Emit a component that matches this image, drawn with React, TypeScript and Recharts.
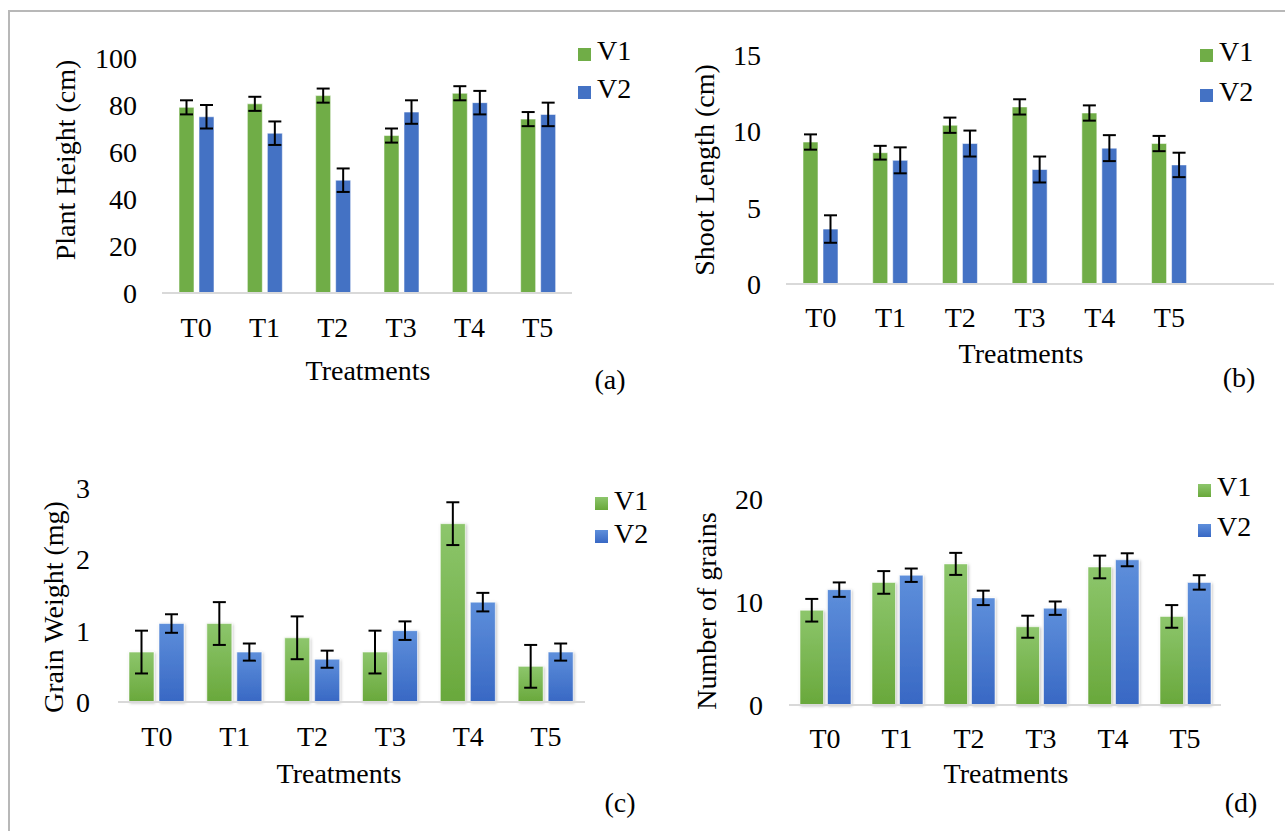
import React from 'react';
import { BarChart, Bar, XAxis, YAxis, ErrorBar, Legend } from 'recharts';

const FONT = 'Liberation Serif, Times New Roman, serif';

// ---------- data ----------
const categories = ['T0', 'T1', 'T2', 'T3', 'T4', 'T5'];
const seriesNames = ['V1', 'V2'];

const plantHeightV1 = [79, 80.5, 84, 67, 85, 74];
const plantHeightV1Err = [3, 3, 3, 3, 3, 3];
const plantHeightV2 = [75, 68, 48, 77, 81, 76];
const plantHeightV2Err = [5, 5, 5, 5, 5, 5];
const plantHeightTicks = [0, 20, 40, 60, 80, 100];

const shootLengthV1 = [9.3, 8.6, 10.4, 11.6, 11.2, 9.2];
const shootLengthV1Err = [0.5, 0.45, 0.5, 0.5, 0.5, 0.5];
const shootLengthV2 = [3.6, 8.1, 9.2, 7.5, 8.9, 7.8];
const shootLengthV2Err = [0.9, 0.85, 0.85, 0.85, 0.85, 0.8];
const shootLengthTicks = [0, 5, 10, 15];

const grainWeightV1 = [0.7, 1.1, 0.9, 0.7, 2.5, 0.5];
const grainWeightV1Err = [0.3, 0.3, 0.3, 0.3, 0.3, 0.3];
const grainWeightV2 = [1.1, 0.7, 0.6, 1.0, 1.4, 0.7];
const grainWeightV2Err = [0.13, 0.12, 0.12, 0.13, 0.13, 0.12];
const grainWeightTicks = [0, 1, 2, 3];

const grainCountV1 = [9.2, 11.9, 13.7, 7.6, 13.4, 8.6];
const grainCountV1Err = [1.1, 1.1, 1.07, 1.07, 1.1, 1.1];
const grainCountV2 = [11.2, 12.6, 10.4, 9.4, 14.1, 11.9];
const grainCountV2Err = [0.7, 0.65, 0.7, 0.65, 0.63, 0.7];
const grainCountTicks = [0, 10, 20];

type Row = { cat: string; v1: number | null; v2: number | null; e1: number | null; e2: number | null };

function buildRows(v1: number[], v2: number[], e1: number[], e2: number[], emptySlots = 0): Row[] {
  const rows: Row[] = categories.map((c, i) => ({ cat: c, v1: v1[i], v2: v2[i], e1: e1[i], e2: e2[i] }));
  for (let k = 0; k < emptySlots; k++) rows.push({ cat: ' '.repeat(k + 1), v1: null, v2: null, e1: null, e2: null });
  return rows;
}

const FLAT = { v1: '#70ad47', v2: '#4472c4' };
const GRAD_CSS = {
  v1: 'linear-gradient(#8dc66c, #69a83b)',
  v2: 'linear-gradient(#5e8fdb, #3868c4)',
};

type Panel = {
  id: string;
  left: number; top: number; width: number; height: number;
  rows: Row[];
  ticks: number[];
  plotLeft: number; plotRight: number; plotTop: number; plotBottom: number;
  yTickMargin: number; xTickMargin: number;
  barSize: number; barGap: number;
  gradient: boolean;
  yTitle: string; yTitleX: number; yTitleY: number;
  xTitleX: number; xTitleY: number;
  tag: string; tagX: number; tagY: number;
  legendLeft: number; legendTop: number; legendRow: number;
};

const panels: Panel[] = [
  {
    id: 'a', left: 0, top: 0, width: 640, height: 420,
    rows: buildRows(plantHeightV1, plantHeightV2, plantHeightV1Err, plantHeightV2Err),
    ticks: plantHeightTicks,
    plotLeft: 162, plotRight: 572, plotTop: 58, plotBottom: 293,
    yTickMargin: 25, xTickMargin: 24, barSize: 15, barGap: 5, gradient: false,
    yTitle: 'Plant Height (cm)', yTitleX: 75, yTitleY: 160,
    xTitleX: 368, xTitleY: 380, tag: '(a)', tagX: 610, tagY: 389,
    legendLeft: 578, legendTop: 32, legendRow: 38,
  },
  {
    id: 'b', left: 640, top: 0, width: 645, height: 420,
    rows: buildRows(shootLengthV1, shootLengthV2, shootLengthV1Err, shootLengthV2Err, 1),
    ticks: shootLengthTicks,
    plotLeft: 146, plotRight: 634, plotTop: 55, plotBottom: 284,
    yTickMargin: 25, xTickMargin: 23, barSize: 15, barGap: 5, gradient: false,
    yTitle: 'Shoot Length (cm)', yTitleX: 74, yTitleY: 170,
    xTitleX: 381, xTitleY: 363, tag: '(b)', tagX: 599, tagY: 387,
    legendLeft: 560, legendTop: 32, legendRow: 40,
  },
  {
    id: 'c', left: 0, top: 420, width: 640, height: 411,
    rows: buildRows(grainWeightV1, grainWeightV2, grainWeightV1Err, grainWeightV2Err),
    ticks: grainWeightTicks,
    plotLeft: 118, plotRight: 585, plotTop: 68, plotBottom: 282,
    yTickMargin: 28, xTickMargin: 24, barSize: 25, barGap: 5, gradient: true,
    yTitle: 'Grain Weight (mg)', yTitleX: 63, yTitleY: 187,
    xTitleX: 339, xTitleY: 363, tag: '(c)', tagX: 620, tagY: 392,
    legendLeft: 595, legendTop: 64, legendRow: 33,
  },
  {
    id: 'd', left: 640, top: 420, width: 645, height: 411,
    rows: buildRows(grainCountV1, grainCountV2, grainCountV1Err, grainCountV2Err),
    ticks: grainCountTicks,
    plotLeft: 149, plotRight: 581, plotTop: 79, plotBottom: 285,
    yTickMargin: 26, xTickMargin: 23, barSize: 23.5, barGap: 4, gradient: true,
    yTitle: 'Number of grains', yTitleX: 76, yTitleY: 191,
    xTitleX: 366, xTitleY: 363, tag: '(d)', tagX: 601, tagY: 392,
    legendLeft: 558, legendTop: 47, legendRow: 40,
  },
];

const tickStyle = { fill: '#000', fontSize: 28, fontFamily: FONT, style: { fontFamily: FONT } };

function makeLegend(p: Panel) {
  return (props: any) => {
    const payload = props.payload || [];
    return (
      <div style={{ fontFamily: FONT, fontSize: 28, color: '#000', lineHeight: 1 }}>
        {payload.map((item: any) => {
          const key = item.dataKey as 'v1' | 'v2';
          return (
            <div key={item.value} style={{ display: 'flex', alignItems: 'center', height: p.legendRow, fontFamily: FONT }}>
              <span
                style={{
                  display: 'inline-block', width: 13, height: 13, marginRight: 6, position: 'relative', top: 3,
                  background: p.gradient ? GRAD_CSS[key] : FLAT[key],
                }}
              />
              <span style={{ fontFamily: FONT }}>{item.value}</span>
            </div>
          );
        })}
      </div>
    );
  };
}

function PanelChart({ p }: { p: Panel }) {
  const fill1 = p.gradient ? `url(#g1${p.id})` : FLAT.v1;
  const fill2 = p.gradient ? `url(#g2${p.id})` : FLAT.v2;
  const max = p.ticks[p.ticks.length - 1];
  return (
    <div style={{ position: 'absolute', left: p.left, top: p.top, width: p.width, height: p.height, fontFamily: FONT }}>
      <BarChart
        width={p.width}
        height={p.height}
        data={p.rows}
        barGap={p.barGap}
        barSize={p.barSize}
        style={{ fontFamily: FONT }}
        margin={{ top: p.plotTop, right: p.width - p.plotRight, left: 0, bottom: 0 }}
      >
        <defs>
          <linearGradient id={`g1${p.id}`} x1="0" y1="0" x2="0" y2="1">
            <stop offset="0%" stopColor="#8dc66c" />
            <stop offset="100%" stopColor="#69a83b" />
          </linearGradient>
          <linearGradient id={`g2${p.id}`} x1="0" y1="0" x2="0" y2="1">
            <stop offset="0%" stopColor="#5e8fdb" />
            <stop offset="100%" stopColor="#3868c4" />
          </linearGradient>
          <filter id={`sh${p.id}`} x="-30%" y="-10%" width="160%" height="130%">
            <feDropShadow dx="1" dy="1" stdDeviation="1.5" floodColor="#000" floodOpacity="0.25" />
          </filter>
        </defs>
        <XAxis
          dataKey="cat"
          interval={0}
          height={p.height - p.plotBottom}
          tickLine={false}
          tickSize={0}
          tickMargin={p.xTickMargin}
          axisLine={{ stroke: '#d9d9d9', strokeWidth: 2 }}
          tick={tickStyle}
          label={{
            value: 'Treatments',
            content: () => (
              <g>
                <text x={p.xTitleX} y={p.xTitleY} textAnchor="middle" fontFamily={FONT} fontSize={28} fill="#000">
                  Treatments
                </text>
                <text x={p.tagX} y={p.tagY} textAnchor="middle" fontFamily={FONT} fontSize={28} fill="#000">
                  {p.tag}
                </text>
              </g>
            ),
          }}
        />
        <YAxis
          width={p.plotLeft}
          domain={[0, max]}
          ticks={p.ticks}
          interval={0}
          axisLine={false}
          tickLine={false}
          tickSize={0}
          tickMargin={p.yTickMargin}
          tick={tickStyle}
          label={{
            value: p.yTitle,
            content: () => (
              <text
                x={p.yTitleX}
                y={p.yTitleY}
                transform={`rotate(-90 ${p.yTitleX} ${p.yTitleY})`}
                textAnchor="middle"
                fontFamily={FONT}
                fontSize={28}
                fill="#000"
              >
                {p.yTitle}
              </text>
            ),
          }}
        />
        <Legend
          layout="vertical"
          align="center"
          verticalAlign="middle"
          content={makeLegend(p)}
          wrapperStyle={{ position: 'absolute', left: p.legendLeft, top: p.legendTop, width: 'auto', height: 'auto', margin: 0, padding: 0, fontFamily: FONT }}
        />
        <Bar
          dataKey="v1"
          name={seriesNames[0]}
          fill={fill1}
          stroke="rgba(255,255,255,0.55)"
          strokeWidth={1}
          filter={p.gradient ? `url(#sh${p.id})` : undefined}
          isAnimationActive={false}
        >
          <ErrorBar dataKey="e1" width={6.5} stroke="#000" strokeWidth={2} direction="y" />
        </Bar>
        <Bar
          dataKey="v2"
          name={seriesNames[1]}
          fill={fill2}
          stroke="rgba(255,255,255,0.55)"
          strokeWidth={1}
          filter={p.gradient ? `url(#sh${p.id})` : undefined}
          isAnimationActive={false}
        >
          <ErrorBar dataKey="e2" width={6.5} stroke="#000" strokeWidth={2} direction="y" />
        </Bar>
      </BarChart>
    </div>
  );
}

export default function App() {
  return (
    <div style={{ position: 'absolute', left: 0, top: 0, width: 1285, height: 831, background: '#fff', overflow: 'hidden', fontFamily: FONT }}>
      <div
        style={{
          position: 'absolute', left: 8, top: 10, width: 1285 - 8, height: 831 - 10,
          borderTop: '2px solid #b8b8b8', borderLeft: '2px solid #b8b8b8', boxSizing: 'border-box',
        }}
      />
      {panels.map((p) => (
        <PanelChart key={p.id} p={p} />
      ))}
    </div>
  );
}
